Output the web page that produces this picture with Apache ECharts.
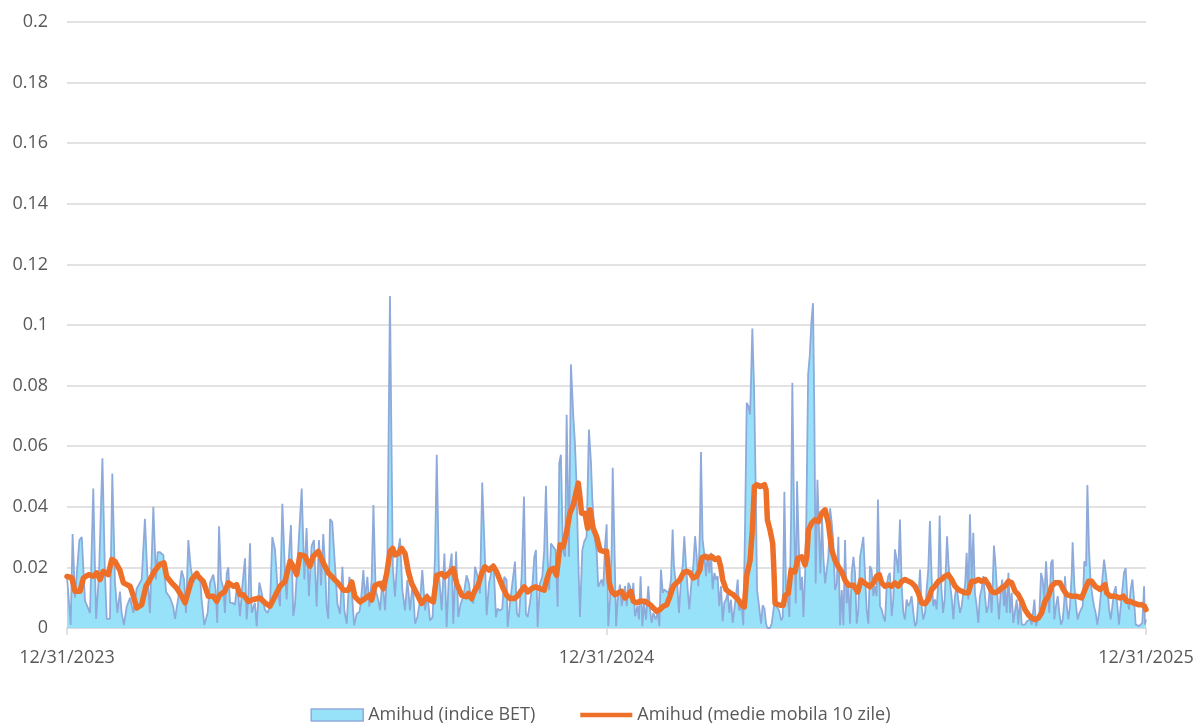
<!DOCTYPE html>
<html>
<head>
<meta charset="utf-8">
<title>Amihud BET</title>
<script src="https://cdn.jsdelivr.net/npm/echarts@6/dist/echarts.min.js"></script>
<style>
  html, body { margin: 0; padding: 0; background: #fff; }
  #chart { width: 1201px; height: 724px; }
</style>
</head>
<body>
<div id="chart"></div>
<script>
// x = days since 12/31/2023, y = Amihud illiquidity
var dateLabels = ['12/31/2023', '12/31/2024', '12/31/2025'];
var seriesNames = ['Amihud (indice BET)', 'Amihud (medie mobila 10 zile)'];

var amihudBET = [
    [0,0.017],[2.5,0.001],[3.8,0.031],[5.4,0.010],[8.4,0.029],[10,0.030],[12.2,0.009],[15.6,0.005],[17.8,0.046],[19.7,0.003],
    [21.7,0.018],[24,0.056],[25.7,0.018],[26.9,0.003],[29.1,0.003],[30.7,0.051],[32.5,0.015],[34.1,0.005],[35.9,0.012],[37,0.005],
    [38.6,0.001],[40.4,0.007],[42.7,0.010],[45,0.005],[47.2,0.013],[50.6,0.016],[52.8,0.036],[54.4,0.018],[56.2,0.005],[58.5,0.040],
    [60.3,0.016],[61.4,0.025],[63,0.025],[65.3,0.024],[67.1,0.012],[69.8,0.010],[72,0.007],[73.2,0.003],[75.4,0.010],[77.7,0.019],
    [79.3,0.016],[80.6,0.005],[82.2,0.029],[83.8,0.020],[85.6,0.015],[87.9,0.018],
    [90.1,0.017],[91.2,0.0094],[93,0.001],[95.3,0.005],[96.9,0.015],[99.1,0.0176],[100.7,0.0127],[101.8,0.0017],[103,0.0336],[104.3,0.016],
    [105.9,0.0132],[107,0.005],[108.2,0.018],[109.3,0.020],[110.4,0.0083],[112,0.0083],[113.8,0.0077],[115.4,0.015],[117.2,0.0039],[118.8,0.0138],
    [120.6,0.023],[121.7,0.0028],[122.8,0.0094],[124,0.028],[125.1,0.005],[127.3,0.0083],[128.5,0.0006],[130.3,0.015],[131.9,0.0116],[134.1,0.006],
    [135.9,0.005],[137.5,0.0072],[139.1,0.030],[140.9,0.026],[142.7,0.0127],[144.3,0.0072],[145.9,0.041],[147.7,0.018],[148.8,0.0094],[149.9,0.020],
    [151.7,0.034],[153.3,0.004],[154.5,0.008],[156.7,0.026],[159,0.046],[160.8,0.016],[162.3,0.033],[163.9,0.0105],[165.7,0.027],[167.3,0.029],
    [169.1,0.007],[170.7,0.029],[172.1,0.014],[173.6,0.031],[174.8,0.021],[175.9,0.007],[177,0.003],[178.2,0.036],[179.7,0.035],
    [181.6,0.0202],[183.2,0.008],[185,0.0047],[186.6,0.0202],[187.9,0.0058],[189.5,0.0014],[191.3,0.0169],[192.9,0.0125],[194.5,0.0009],[196.3,0.0047],
    [198.1,0.0053],[199,0.008],[200.8,0.0191],[201.9,0.0092],[203.5,0.0169],[204.8,0.007],[206.4,0.0158],[207.6,0.0406],[209.1,0.0125],[210.9,0.0092],
    [212.1,0.0058],[213.7,0.0158],[215.5,0.0058],[217,0.0202],[218.8,0.1096],[220.7,0.0202],[222.2,0.0103],[224,0.0246],[225.6,0.0296],[227.2,0.0125],
    [229,0.0058],[230.6,0.0158],[232.4,0.0058],[234.2,0.0147],[235.8,0.0014],[237.4,0.0036],[239.2,0.0092],[240.7,0.0191],[242.6,0.0058],[244.1,0.0114],
    [245.9,0.0025],[247.7,0.0036],[249.3,0.0235],[250.5,0.0572],[252,0.018],[253.8,0.0058],[255.7,0.0246],[257.2,0.0003],[258.8,0.018],[260.6,0.0246],
    [261.7,0.0014],[263.6,0.0252],[265.1,0.0036],[266.7,0.008],[268.5,0.0103],
    [270.7,0.0174],[272.3,0.0147],[273.7,0.0097],[275.2,0.0081],[276.4,0.0202],[278.2,0.0169],[279.8,0.0114],[281.3,0.048],[283.1,0.0235],[284.3,0.0042],
    [285.9,0.0147],[287.7,0.0191],[289,0.0213],[290.6,0.0036],[291.7,0.0064],[293.3,0.0058],[294.9,0.0064],[296.2,0.0169],[297.8,0.0158],[298.5,0.0003],
    [300.1,0.0081],[301.7,0.0147],[303.5,0.0219],[304.8,0.0047],[306.2,0.0036],[308,0.0169],[309.6,0.0434],[310.9,0.0047],[312.1,0.0036],[313.6,0.0081],
    [315.4,0.0147],[316.6,0.0235],[317.7,0.0257],[318.8,0.0003],[320.4,0.0147],[322,0.0169],[323.3,0.0257],[324.5,0.0469],[325.6,0.0235],[326.7,0.0125],
    [327.9,0.0279],[329.4,0.0268],[331,0.0257],[332.4,0.007],[333.5,0.0544],[334.6,0.0572],[336,0.0257],[337.4,0.0235],[338.5,0.0704],[340.1,0.0235],
    [341.4,0.087],[343,0.0699],[344.1,0.061],[345,0.050],[346.4,0.0224],[347.5,0.0036],[349.1,0.0257],[350.4,0.0285],[352,0.0301],[353.6,0.0655],
    [355,0.0544],[355.9,0.0423],[357.7,0.029],[358.8,0.0257],[359.9,0.0136],
    [362.2,0.016],[363.4,0.0138],[364.5,0.027],[365.6,0.0342],[366.7,0.0006],[367.9,0.0094],[369,0.0259],[369.7,0.0529],[370.8,0.0292],[372,0.0006],
    [373.1,0.0094],[374.6,0.0143],[375.8,0.0072],[376.9,0.0105],[378,0.0138],[379.2,0.0072],[380.3,0.0149],[381.4,0.0138],[382.6,0.0094],[383.7,0.0149],
    [384.8,0.0039],[386.4,0.0072],[387.5,0.0028],[388.6,0.0171],[389.8,0.0006],[390.9,0.0083],[392.3,0.0028],[393.8,0.0138],[395,0.0061],[396.1,0.0017],
    [397.2,0.005],[398.8,0.0028],[400.2,0.005],[401.3,0.0006],[402.4,0.0193],[403.6,0.0116],[404.7,0.0127],[405.8,0.0127],[407.4,0.0116],[408.5,0.0138],
    [409.2,0.016],[410.3,0.0325],[411.2,0.0204],[412.4,0.0149],[413.5,0.0138],[414.6,0.005],[416,0.016],[417.1,0.0204],[418.2,0.0303],[419.4,0.0204],
    [420.5,0.0127],[421.6,0.0061],[423.2,0.016],[424.3,0.0204],[425.5,0.0303],[426.6,0.0237],[427.7,0.0138],[428.8,0.0325],[429.5,0.0581],[430.6,0.0292],
    [431.8,0.0242],[432.9,0.0171],[434,0.0242],[435.2,0.0182],[436.3,0.0248],[437.4,0.0127],[438.6,0.0182],[439.7,0.016],[440.8,0.0171],[441.9,0.0072],
    [443.1,0.0138],[444.2,0.0022],[445.3,0.0083],[446.5,0.0094],[447.6,0.0116],[448.7,0.005],[449.8,0.0094],[451,0.0017],[452.1,0.0061],[453.2,0.0105],
    [454.4,0.016],
    [455.3,0.0058],[457.1,0.007],[458.2,0.0009],[459.4,0.0346],[460.5,0.0743],[461.6,0.0732],[462.8,0.0704],[464.3,0.0988],[465.5,0.0787],[466.6,0.0456],
    [467.5,0.0125],[468.9,0.007],[470.2,0.0014],[471.3,0.0075],[472.5,0.0064],[473.6,0.0014],[474.5,0],[476.3,0],[477.4,0.0014],[479.2,0.0081],
    [480.8,0.007],[482.4,0.0058],[483.8,0.0025],[484.9,0.0036],[486,0.045],[487.1,0.0125],[488.3,0.0103],[489.4,0.0036],[490.5,0.0346],[491.4,0.0809],
    [492.6,0.0357],[493.7,0.0081],[494.6,0.0484],[495.7,0.0279],[496.9,0.0125],[498,0.0169],[498.9,0.0036],[500,0.0169],[500.9,0.0368],[502.1,0.0837],
    [503.2,0.0898],[504.3,0.1008],[505.4,0.1072],[506.3,0.071],[507.2,0.0147],[508.4,0.0489],[509.3,0.0346],[510.4,0.018],[511.5,0.0368],[512.4,0.0235],
    [513.6,0.0147],[514.7,0.0191],[515.8,0.0235],[517,0.0395],[518.1,0.0346],[519.2,0.0279],[520.3,0.0125],[521.5,0.0147],[522.6,0.0301],[523.7,0.0009],
    [524.9,0.0125],[526,0.0009],[527.1,0.029],[528.2,0.0081],[529.4,0.0136],[530.5,0.0014],[531.6,0.018],[532.8,0.0235],[533.9,0.018],[535,0.0014],
    [536.1,0.0058],[537.3,0.0235],[538.4,0.0268],[539.5,0.0301],[540.7,0.0169],[541.8,0.0058],[542.9,0.0014],
    [544,0.0204],[545.1,0.0193],[546.3,0.0105],[547.4,0.0138],[548.5,0.0105],[549.4,0.0424],[550.8,0.0072],[551.9,0.0061],[553,0.0039],[554.2,0.0022],
    [555.3,0.0138],[556.4,0.0171],[557.5,0.0182],[558.7,0.0039],[559.8,0.0094],[560.9,0.0259],[562.1,0.0226],[563.2,0.0182],[564.3,0.0358],[565.5,0.0138],
    [566.6,0.005],[567.7,0.0028],[568.8,0.0094],[570,0.0072],[571.1,0.0083],[572.2,0.0105],[573.4,0.005],[574.5,0.0006],[575.6,0.0017],[576.7,0.0094],
    [577.9,0.0193],[579,0.0072],[580.1,0.0028],[581.3,0.005],[582.4,0.0127],[583.5,0.0193],[584.6,0.0353],[585.8,0.016],[586.9,0.0072],[588,0.0094],
    [589.2,0.0061],[590.3,0.016],[591.2,0.0371],[592.3,0.0138],[593.5,0.005],[594.6,0.0094],[595.3,0.0182],[596.2,0.0303],[597.3,0.0204],[598.4,0.0138],
    [599.5,0.0094],[600.5,0.0028],[601.6,0.0105],[602.7,0.0138],[603.8,0.0094],[605,0.005],[606.1,0.0072],[607.2,0.0116],[608.4,0.0138],[609.5,0.0248],
    [610.6,0.0094],[611.7,0.0375],[612.9,0.016],[614,0.0314],[615.1,0.0116],[616.3,0.0072],[617.4,0.0017],[618.5,0.0105],[619.6,0.0127],[620.8,0.0171],
    [621.9,0.0105],[623,0.005],[624.2,0.0072],[625.3,0.0149],[626.4,0.005],[627.1,0.0138],[628,0.0272],[629.1,0.0204],[630.3,0.0105],[631.4,0.0028],
    [632.5,0.0116],[633.6,0.016],[634.8,0.0072],
    [635.5,0.0138],[636.6,0.005],[637.8,0.0182],[638.9,0.005],[640,0.0116],[641.1,0.0017],[642.3,0.0011],[643.4,0.0094],[644.5,0.0011],[645.7,0.0094],
    [646.8,0.0011],[647.9,0.0017],[649,0.0011],[650.2,0.0022],[651.3,0.0017],[652.4,0.0028],[653.6,0.0011],[654.7,0.0006],[655.4,0.0094],[656.5,0.0006],
    [657.6,0.0011],[658.8,0.005],[659.9,0.0182],[661,0.016],[662.1,0.0094],[663.3,0.022],[664.4,0.0116],[665.5,0.005],[666.7,0.0215],[667.8,0.0226],
    [668.9,0.0028],[670,0.0072],[671.2,0.0105],[672.3,0.005],[673.4,0.0011],[674.6,0.0028],[675.7,0.0094],[676.1,0.0171],[677.3,0.0072],[678.4,0.0028],
    [679.5,0.0072],[680.7,0.0182],[681.3,0.0283],[682.5,0.0138],[683.6,0.0072],[684.7,0.0028],[685.9,0.005],[687,0.0061],[688.1,0.0072],[689.2,0.022],
    [690.4,0.0204],[691.3,0.0472],[692.4,0.0259],[693.5,0.0149],[694.7,0.0105],[695.8,0.0072],[696.9,0.005],[698,0.0011],[699.2,0.005],[700.3,0.0105],
    [701.4,0.016],[702.6,0.0226],[703.7,0.022],[704.8,0.0138],[706,0.0061],[707.1,0.0028],[708.2,0.0072],[709.3,0.0116],[710.5,0.0138],[711.6,0.0072],
    [712.7,0.0011],[713.9,0.0072],[715,0.0127],[716.1,0.0182],[717.2,0.0198],[718.4,0.0094],[719.5,0.0061],[720.6,0.0127],[721.8,0.016],[722.9,0.0094],
    [724,0.0011],[725.1,0.0006],[726.3,0.0006],[727.4,0.0011],[728.5,0.0017],[729.7,0.0138],[730.3,0.0011],[731,0.0028]
];

var amihudMA10 = [
    [0,0.017],[3.2,0.0166],[5.4,0.0121],[8.8,0.0121],[11.1,0.0165],[14.5,0.0176],[17.8,0.0171],[20.1,0.0182],[22.4,0.016],[24.6,0.0187],
    [28,0.0176],[30.3,0.0226],[32.5,0.022],[35.9,0.019],[38.2,0.0149],[42.7,0.0138],[45,0.0105],[47.2,0.0066],[50.6,0.0077],[53.5,0.0138],
    [56.2,0.016],[59.6,0.019],[63,0.021],[65.7,0.0215],[67.5,0.017],[70.9,0.0149],[74.3,0.0132],[77.7,0.0105],[80,0.0083],[82.2,0.0121],
    [84.5,0.016],[87.9,0.018],
    [89,0.017],[92.3,0.0154],[95.7,0.0105],[99.1,0.0105],[101.4,0.0088],[103.6,0.011],[107,0.0121],[109.3,0.0149],[112.7,0.0138],[114.9,0.0143],
    [117.2,0.011],[119.4,0.011],[122.8,0.0088],[126.2,0.0094],[130.7,0.0099],[134.1,0.0083],[137.5,0.0072],[140.9,0.0105],[144.3,0.0138],[147.7,0.0154],
    [151.1,0.022],[153.3,0.0204],[155.6,0.0176],[157.8,0.0242],[161.2,0.0237],[164.6,0.0204],[166.9,0.0237],[170.2,0.0253],[173.6,0.0215],[177,0.0182],
    [179.3,0.017],
    [183.8,0.0147],[187.2,0.0125],[190.6,0.0125],[192.9,0.0152],[195.1,0.0103],[198.5,0.0086],[201.9,0.0097],[204.8,0.0108],[206.4,0.0092],[208.7,0.0141],
    [212.1,0.0147],[214.3,0.013],[216.6,0.018],[218.8,0.0252],[220.7,0.0263],[222.2,0.0241],[224.5,0.0246],[226.7,0.0263],[229,0.0246],[231.3,0.0185],
    [233.5,0.0147],[236.9,0.0114],[240.3,0.0081],[243.7,0.0103],[245.9,0.0092],[248.2,0.0086],[250.5,0.0174],[253.8,0.018],[256.1,0.0169],[259.5,0.0185],
    [261.7,0.0196],[264,0.0147],[267.4,0.0108],[270.8,0.0103],
    [271.9,0.0114],[274.1,0.0097],[276.4,0.0125],[278.6,0.0141],[280.9,0.018],[283.1,0.0202],[285.9,0.0191],[288.8,0.0204],[291.1,0.0185],[293.3,0.0158],
    [295.6,0.013],[297.8,0.0108],[300.1,0.0097],[303,0.0097],[305.7,0.0108],[308,0.0125],[309.8,0.0136],[312.1,0.0119],[314.8,0.013],[317.5,0.0136],
    [320.4,0.013],[323.3,0.0125],[324.9,0.0158],[327.2,0.0191],[329.4,0.0197],[331.7,0.0174],[334,0.0274],[336.2,0.0268],[338.5,0.0318],[340.7,0.0379],
    [343,0.0406],[344.8,0.0445],[346.4,0.0478],[347.5,0.0434],[348.6,0.0379],[350.9,0.0379],[352.7,0.0329],[354.3,0.039],[356.5,0.0329],[358.8,0.0301],
    [361.1,0.0257],[364,0.0252],
    [365.6,0.0253],[367.4,0.0149],[369,0.0121],[371.3,0.011],[373.5,0.0116],[375.8,0.0121],[378,0.0099],[380.3,0.011],[381.9,0.0121],[383.7,0.0088],
    [385.9,0.0083],[388.2,0.0088],[391.6,0.0088],[395,0.0077],[397.2,0.0066],[399.5,0.0055],[401.7,0.0061],[404,0.0072],[406.3,0.0077],[408.5,0.0105],
    [410.8,0.0138],[413,0.0149],[415.3,0.016],[417.6,0.0182],[419.8,0.0187],[422.1,0.0182],[424.3,0.0165],[426.6,0.0171],[428.8,0.0193],[430,0.0231],
    [432.2,0.0237],[434.5,0.0231],[436.7,0.0237],[439,0.0226],[441.3,0.0231],[442.8,0.0204],[444.2,0.016],[446.5,0.0127],[449.2,0.0116],[451.4,0.011],
    [453.7,0.0099],[455.5,0.0088],
    [457.1,0.0075],[458.9,0.007],[460.5,0.0174],[462.8,0.0224],[464.3,0.0323],[465.7,0.0467],[467.3,0.0473],[469.5,0.0467],[472.5,0.0473],[473.6,0.0456],
    [474.5,0.0357],[476.3,0.0323],[478.1,0.0279],[479,0.018],[479.7,0.0081],[480.8,0.0075],[483.1,0.0075],[485.3,0.0075],[486.5,0.0108],[488.7,0.0114],
    [490.5,0.0191],[493.2,0.0185],[495.1,0.023],[497.8,0.0235],[500,0.0208],[501.2,0.0235],[502.3,0.0323],[504.5,0.0346],[506.8,0.0357],[509.1,0.0351],
    [511.3,0.0379],[513.6,0.039],[515.8,0.0346],[518.1,0.0257],[520.3,0.0224],[522.6,0.0202],[524.9,0.0185],[527.1,0.0158],[529.4,0.0141],[532.8,0.0141],
    [535.7,0.0119],[537.9,0.0158],[540.7,0.0147],[544,0.0136],
    [546.3,0.0149],[548.5,0.0171],[550.3,0.0176],[551.9,0.0149],[554.2,0.0138],[556.4,0.0143],[558.7,0.0138],[560.9,0.0149],[563.2,0.0138],[565.5,0.0154],
    [567.7,0.016],[570,0.0154],[572.2,0.0149],[574.5,0.0138],[576.7,0.0116],[579,0.0083],[581.3,0.008],[583.5,0.0094],[585.8,0.0127],[588,0.0138],
    [590.3,0.0154],[592.5,0.016],[594.8,0.0171],[597.1,0.0176],[599.3,0.016],[601.6,0.0138],[603.8,0.0127],[606.1,0.0121],[608.4,0.0116],[610.6,0.0116],
    [612.9,0.0154],[615.1,0.0154],[617.4,0.016],[619.6,0.0154],[621.9,0.016],[624.2,0.0143],[626.4,0.0121],[628.7,0.0116],[630.9,0.0121],[633.2,0.0132],
    [635.5,0.0138],
    [637.8,0.0154],[640,0.0149],[642.3,0.0121],[644.5,0.011],[646.8,0.0088],[649,0.0061],[651.3,0.0044],[653.6,0.0033],[655.8,0.0028],[658.1,0.0033],
    [660.3,0.005],[662.6,0.0088],[664.9,0.0105],[667.1,0.0138],[669.4,0.0149],[672.8,0.0149],[675,0.0127],[677.3,0.011],[680.7,0.0105],[684,0.0105],
    [687.4,0.0099],[689.7,0.0127],[692,0.0154],[694.2,0.0154],[696.5,0.0138],[699.9,0.0127],[703.2,0.0143],[704.4,0.0116],[706.6,0.0105],[710,0.0105],
    [713.4,0.0099],[715.7,0.0105],[717.9,0.0088],[720.2,0.0088],[722.4,0.0083],[725.8,0.0077],[728.1,0.0077],[729.9,0.0072],[731,0.0061]
];

var chart = echarts.init(document.getElementById('chart'));

var textColor = '#595959';
var gridColor = '#d9d9d9';
var areaColor = '#98e2f9';
var areaLine = '#8eaadb';
var orange = '#ee6f27';

var option = {
    animation: false,
    backgroundColor: '#fff',
    textStyle: { fontFamily: 'Open Sans' },
    grid: { left: 67, right: 55, top: 22, bottom: 96 },
    legend: {
        left: 'center',
        top: 701,
        itemGap: 45,
        itemWidth: 52,
        itemHeight: 12,
        textStyle: { color: textColor, fontSize: 18, fontFamily: 'Open Sans' },
        data: [
            { name: seriesNames[0], icon: 'rect', itemStyle: { color: areaColor, borderColor: areaLine, borderWidth: 1.5 } },
            { name: seriesNames[1], icon: 'path://M0,0 L55,0 L55,5 L0,5 Z', itemStyle: { color: orange, borderWidth: 0 } }
        ]
    },
    xAxis: {
        type: 'value',
        min: 0,
        max: 731,
        interval: 365.5,
        splitLine: { show: false },
        axisLine: { lineStyle: { color: gridColor, width: 1.5 } },
        axisTick: { show: true, length: 7, lineStyle: { color: gridColor, width: 1.5 } },
        axisLabel: {
            color: textColor,
            fontSize: 18,
            margin: 21,
            showMinLabel: true,
            showMaxLabel: true,
            formatter: function (v) {
                return dateLabels[Math.round(v / 365.5)];
            }
        }
    },
    yAxis: {
        type: 'value',
        min: 0,
        max: 0.2,
        interval: 0.02,
        axisLine: { show: false },
        axisTick: { show: false },
        splitLine: { lineStyle: { color: gridColor, width: 1.5 } },
        axisLabel: {
            color: textColor,
            fontSize: 18,
            margin: 19,
            formatter: function (v) { return String(+v.toFixed(2)); }
        }
    },
    series: [{
        name: seriesNames[0],
        type: 'line',
        data: amihudBET,
        symbol: 'none',
        itemStyle: { color: areaColor },
        lineStyle: { color: areaLine, width: 1.8 },
        areaStyle: { color: areaColor, opacity: 1 },
        z: 2
    }, {
        name: seriesNames[1],
        type: 'line',
        data: amihudMA10,
        symbol: 'none',
        itemStyle: { color: orange },
        lineStyle: { color: orange, width: 5.5, join: 'round', cap: 'round' },
        z: 3
    }]
};

chart.setOption(option);
</script>
</body>
</html>
